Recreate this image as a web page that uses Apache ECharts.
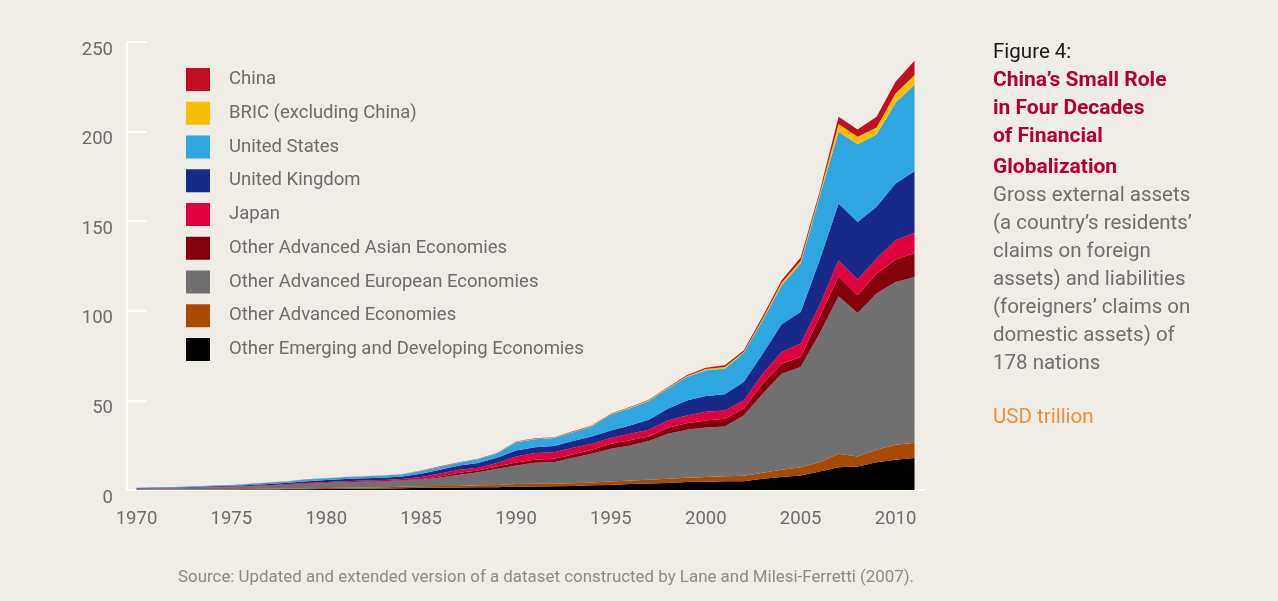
<!DOCTYPE html>
<html>
<head>
<meta charset="utf-8">
<script src="https://cdn.jsdelivr.net/npm/echarts@6/dist/echarts.min.js"></script>
<style>
html,body{margin:0;padding:0;background:#f0ece6;}
#chart{width:1278px;height:601px;}
</style>
</head>
<body>
<div id="chart"></div>
<script>
const years = [];
for (let y = 1970; y <= 2011; y++) years.push(String(y));

const yTicks = [0, 50, 100, 150, 200, 250];

// Values in USD trillion (layer thickness, not cumulative)
const emerging = [0.10,0.12,0.14,0.17,0.20,0.23,0.27,0.32,0.40,0.47,0.55,0.65,0.75,0.85,1.00,1.2,1.3,1.4,1.5,1.6,1.9,2.0,2.1,2.3,2.6,2.8,3.3,3.6,3.9,4.4,4.6,4.9,4.9,6.3,7.2,8.1,10.3,12.7,13.1,15.5,16.9,17.8];
const otherAdvanced = [0.10,0.12,0.14,0.17,0.20,0.23,0.27,0.32,0.40,0.47,0.55,0.60,0.65,0.70,0.80,0.9,0.9,0.9,1.1,1.2,1.4,1.5,1.4,1.5,1.6,1.9,2.0,2.1,2.4,2.4,2.6,2.8,3.0,3.3,4.1,4.6,5.2,7.5,5.6,6.9,8.3,8.6];
const otherEuropean = [0.50,0.57,0.65,0.80,0.95,1.10,1.30,1.55,1.90,2.25,2.60,2.80,2.95,3.10,3.30,3.6,4.8,6.2,7.3,9.0,10.4,11.7,12.0,14.2,16.0,18.3,19.6,21.6,25.1,26.8,27.7,27.8,33.7,44.1,53.6,55.9,71.8,87.9,80.1,87.2,90.9,92.5];
const otherAsian = [0.05,0.06,0.07,0.08,0.10,0.12,0.14,0.16,0.20,0.23,0.27,0.28,0.29,0.30,0.30,0.3,0.6,1.1,1.0,1.3,1.6,1.7,1.9,1.8,2.3,2.8,2.8,2.6,3.3,3.7,3.9,4.3,3.8,5.6,5.6,5.6,9.2,11.2,9.9,11.2,12.5,13.4];
const japan = [0.10,0.12,0.14,0.17,0.20,0.23,0.27,0.33,0.40,0.47,0.55,0.60,0.62,0.65,0.70,1.2,1.6,1.7,1.5,1.9,3.4,3.7,3.7,3.8,3.3,3.4,3.7,3.7,4.1,4.3,4.9,4.6,4.6,5.6,6.5,7.5,6.6,8.9,8.7,8.4,10.8,11.2];
const uk = [0.20,0.24,0.27,0.33,0.40,0.46,0.54,0.66,0.80,0.95,1.10,1.20,1.25,1.30,1.40,1.8,2.1,2.4,2.6,3.0,3.4,3.3,3.4,3.7,4.1,4.0,4.6,5.6,6.6,8.4,8.7,9.0,10.2,11.2,15.5,17.6,25.1,31.7,32.2,28.8,31.6,34.4];
const us = [0.22,0.25,0.27,0.34,0.41,0.48,0.57,0.70,0.85,1.00,1.00,1.10,1.15,1.20,1.30,1.6,1.6,1.5,2.1,2.3,4.5,4.4,4.5,4.9,5.5,8.8,9.6,10.5,11.2,13.1,14.4,14.3,16.2,18.6,21.7,27.1,35.4,40.0,43.4,40.4,45.1,48.1];
const bric = [0.02,0.02,0.03,0.03,0.04,0.05,0.05,0.06,0.07,0.08,0.10,0.10,0.11,0.11,0.12,0.2,0.1,0.2,0.2,0.2,0.3,0.3,0.3,0.3,0.3,0.3,0.4,0.4,0.4,0.4,0.7,0.9,0.6,0.9,1.5,1.4,1.5,4.3,4.1,3.9,5.2,5.6];
const china = [0.01,0.01,0.01,0.01,0.02,0.02,0.02,0.02,0.03,0.03,0.04,0.04,0.04,0.05,0.05,0.1,0.2,0.1,0.1,0.1,0.2,0.3,0.2,0.3,0.3,0.3,0.3,0.3,0.4,0.5,0.7,1.0,0.9,1.3,1.3,1.9,1.3,4.1,4.1,6.0,6.5,8.0];

const seriesDefs = [
  {name:'Other Emerging and Developing Economies', data:emerging, color:'#000000'},
  {name:'Other Advanced Economies', data:otherAdvanced, color:'#a84a00'},
  {name:'Other Advanced European Economies', data:otherEuropean, color:'#707070'},
  {name:'Other Advanced Asian Economies', data:otherAsian, color:'#83000c'},
  {name:'Japan', data:japan, color:'#e0003f'},
  {name:'United Kingdom', data:uk, color:'#172a87'},
  {name:'United States', data:us, color:'#2ea6df'},
  {name:'BRIC (excluding China)', data:bric, color:'#f9bf00'},
  {name:'China', data:china, color:'#c20e24'}
];

const legendOrder = seriesDefs.map(s => s.name).reverse();
const FONT = 'Roboto, "Noto Sans", sans-serif';

const chart = echarts.init(document.getElementById('chart'));
const rightText = [
  {t:'Figure 4:', y:50, c:'#1a1a1a', w:'normal'},
  {t:'China’s Small Role', y:78, c:'#b4002d', w:'bold'},
  {t:'in Four Decades', y:106, c:'#b4002d', w:'bold'},
  {t:'of Financial', y:134, c:'#b4002d', w:'bold'},
  {t:'Globalization', y:165, c:'#b4002d', w:'bold'},
  {t:'Gross external assets', y:193, c:'#6f6f6f', w:'normal'},
  {t:'(a country’s residents’', y:221, c:'#6f6f6f', w:'normal'},
  {t:'claims on foreign', y:249, c:'#6f6f6f', w:'normal'},
  {t:'assets) and liabilities', y:277, c:'#6f6f6f', w:'normal'},
  {t:'(foreigners’ claims on', y:305, c:'#6f6f6f', w:'normal'},
  {t:'domestic assets) of', y:333, c:'#6f6f6f', w:'normal'},
  {t:'178 nations', y:361, c:'#6f6f6f', w:'normal'},
  {t:'USD trillion', y:415, c:'#f0903c', w:'normal'}
];

chart.setOption({
  backgroundColor:'#f0ece6',
  animation:false,
  textStyle:{fontFamily:FONT},
  grid:{left:127, right:354, top:42, bottom:111},
  legend:{
    data:legendOrder,
    orient:'vertical',
    left:186, top:68,
    itemWidth:24, itemHeight:23, itemGap:10.75,
    icon:'rect',
    padding:0,
    textStyle:{color:'#6d6d6d', fontSize:18.5, fontFamily:FONT, padding:[2,0,0,14]},
    selectedMode:false
  },
  xAxis:{
    type:'category',
    data:years,
    boundaryGap:true,
    axisLine:{lineStyle:{color:'#ffffff', width:2}},
    axisTick:{show:false},
    axisLabel:{
      color:'#6d6d6d', fontSize:18.5, margin:20, fontFamily:FONT,
      interval:function(i){return i % 5 === 0;}
    },
    splitLine:{show:false}
  },
  yAxis:{
    type:'value',
    min:yTicks[0], max:yTicks[yTicks.length-1], interval:50,
    axisLine:{show:true, lineStyle:{color:'#ffffff', width:2}},
    axisTick:{show:true, inside:true, length:20, lineStyle:{color:'#ffffff', width:2}},
    axisLabel:{color:'#6d6d6d', fontSize:18.5, margin:14, fontFamily:FONT, verticalAlign:'top', lineHeight:16},
    splitLine:{show:false}
  },
  series:seriesDefs.map(s => ({
    name:s.name,
    type:'line',
    stack:'total',
    data:s.data,
    showSymbol:false,
    symbol:'none',
    lineStyle:{width:0, color:s.color},
    itemStyle:{color:s.color},
    areaStyle:{color:s.color, opacity:1},
    emphasis:{disabled:true}
  })),
  graphic:[
    ...rightText.map(r => ({
      type:'text', left:993, top:r.y - 8,
      style:{text:r.t, fill:r.c, fontSize:r.w === 'bold' ? 21 : 20.5, fontWeight:r.w, fontFamily:FONT}
    })),
    {type:'text', left:178, top:569,
     style:{text:'Source: Updated and extended version of a dataset constructed by Lane and Milesi-Ferretti (2007).', fill:'#8c8c8c', fontSize:16.9, fontFamily:FONT}}
  ]
});
</script>
</body>
</html>
